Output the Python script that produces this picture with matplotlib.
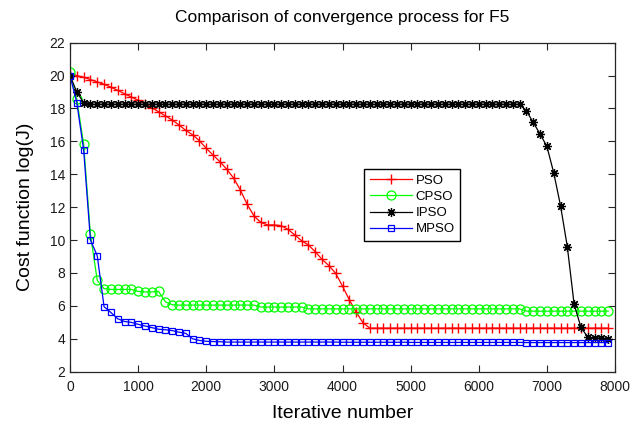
import matplotlib
matplotlib.use('Agg')
import matplotlib.pyplot as plt

plt.rcParams['font.family'] = ['Liberation Sans', 'DejaVu Sans']

iterations = list(range(0, 8000, 100))

pso = [20.1, 20.0, 19.9, 19.76, 19.62, 19.47, 19.3, 19.1, 18.9, 18.7,
       18.5, 18.3, 18.05, 17.8, 17.55, 17.3, 17.0, 16.67, 16.4, 16.04,
       15.58, 15.17, 14.77, 14.31, 13.78, 13.05, 12.18, 11.47, 11.08, 10.92,
       10.92, 10.88, 10.65, 10.31, 9.96, 9.7, 9.29, 8.83, 8.45, 7.98,
       7.2, 6.37, 5.63, 4.98, 4.65, 4.65, 4.65, 4.65, 4.65, 4.65,
       4.65, 4.65, 4.65, 4.65, 4.65, 4.65, 4.65, 4.65, 4.65, 4.65,
       4.65, 4.65, 4.65, 4.65, 4.65, 4.65, 4.65, 4.65, 4.65, 4.65,
       4.65, 4.65, 4.65, 4.65, 4.65, 4.65, 4.65, 4.65, 4.65, 4.65]

cpso = [20.2, 18.55, 15.85, 10.35, 7.55, 7.05, 7.0, 7.0, 7.0, 7.0,
        6.88, 6.85, 6.85, 6.88, 6.25, 6.07, 6.05, 6.05, 6.05, 6.05,
        6.05, 6.05, 6.05, 6.05, 6.05, 6.05, 6.05, 6.05, 5.93, 5.93,
        5.93, 5.93, 5.93, 5.93, 5.93, 5.82, 5.82, 5.82, 5.82, 5.82,
        5.82, 5.82, 5.82, 5.82, 5.82, 5.82, 5.82, 5.82, 5.82, 5.82,
        5.82, 5.82, 5.82, 5.82, 5.82, 5.82, 5.82, 5.82, 5.82, 5.82,
        5.82, 5.82, 5.82, 5.82, 5.82, 5.82, 5.82, 5.68, 5.68, 5.68,
        5.68, 5.68, 5.68, 5.68, 5.68, 5.68, 5.68, 5.68, 5.68, 5.68]

ipso = [20.0, 19.0, 18.35, 18.25, 18.25, 18.25, 18.25, 18.25, 18.25, 18.25,
        18.25, 18.25, 18.25, 18.25, 18.25, 18.25, 18.25, 18.25, 18.25, 18.25,
        18.25, 18.25, 18.25, 18.25, 18.25, 18.25, 18.25, 18.25, 18.25, 18.25,
        18.25, 18.25, 18.25, 18.25, 18.25, 18.25, 18.25, 18.25, 18.25, 18.25,
        18.25, 18.25, 18.25, 18.25, 18.25, 18.25, 18.25, 18.25, 18.25, 18.25,
        18.25, 18.25, 18.25, 18.25, 18.25, 18.25, 18.25, 18.25, 18.25, 18.25,
        18.25, 18.25, 18.25, 18.25, 18.25, 18.25, 18.25, 17.85, 17.15, 16.45,
        15.7, 14.1, 12.1, 9.6, 6.1, 4.7, 4.1, 4.05, 4.05, 4.0]

mpso = [20.0, 18.35, 15.5, 10.0, 9.05, 5.95, 5.6, 5.22, 5.05, 5.0,
        4.88, 4.78, 4.68, 4.58, 4.55, 4.5, 4.4, 4.33, 4.0, 3.9,
        3.85, 3.83, 3.82, 3.8, 3.8, 3.8, 3.8, 3.8, 3.8, 3.8,
        3.8, 3.8, 3.8, 3.8, 3.8, 3.8, 3.8, 3.8, 3.8, 3.8,
        3.79, 3.79, 3.79, 3.79, 3.79, 3.79, 3.79, 3.79, 3.79, 3.79,
        3.78, 3.78, 3.78, 3.78, 3.78, 3.78, 3.78, 3.78, 3.78, 3.78,
        3.78, 3.78, 3.78, 3.78, 3.78, 3.78, 3.78, 3.77, 3.77, 3.77,
        3.77, 3.77, 3.77, 3.77, 3.77, 3.77, 3.77, 3.77, 3.77, 3.77]

labels = ['PSO', 'CPSO', 'IPSO', 'MPSO']

fig = plt.figure(figsize=(6.32, 4.26), dpi=100)
ax = fig.add_axes([70 / 632, 1 - 371.7 / 426, 545 / 632, 329 / 426])

ax.plot(iterations, pso, color='#ff0000', lw=0.9, marker='+', ms=6.5, mew=1.0, label=labels[0])
ax.plot(iterations, cpso, color='#00ff00', lw=0.9, marker='o', ms=6.5, mew=0.9, mfc='none', label=labels[1])
ax.plot(iterations, ipso, color='black', lw=0.9, marker=(8, 2, 0), ms=6.5, mew=0.9, label=labels[2])
ax.plot(iterations, mpso, color='#0000ff', lw=0.9, marker='s', ms=5, mew=0.9, mfc='none', label=labels[3])

ax.set_xlim(0, 8000)
ax.set_ylim(2, 22)
ax.set_xticks(range(0, 8001, 1000))
ax.set_yticks(range(2, 23, 2))
axcol = '#262626'
for s in ax.spines.values():
    s.set_linewidth(0.9)
    s.set_color(axcol)
ax.tick_params(direction='in', top=True, right=True, length=5, width=0.8,
               labelsize=10, colors=axcol, labelcolor='#1a1a1a')
ax.tick_params(axis='x', pad=6)

ax.set_title('Comparison of convergence process for F5', fontsize=12.5, pad=15)
ax.set_xlabel('Iterative number', fontsize=14, labelpad=8)
ax.set_ylabel('Cost function log(J)', fontsize=14, labelpad=11)

leg = ax.legend(loc='upper left', bbox_to_anchor=(0.54, 0.615), frameon=True,
                fancybox=False, edgecolor='black', framealpha=1, fontsize=9.5,
                handlelength=3.2, borderaxespad=0, labelspacing=0.3,
                handletextpad=0.3, borderpad=0.4)
leg.get_frame().set_linewidth(1.0)

fig.savefig('out.png', dpi=100)
